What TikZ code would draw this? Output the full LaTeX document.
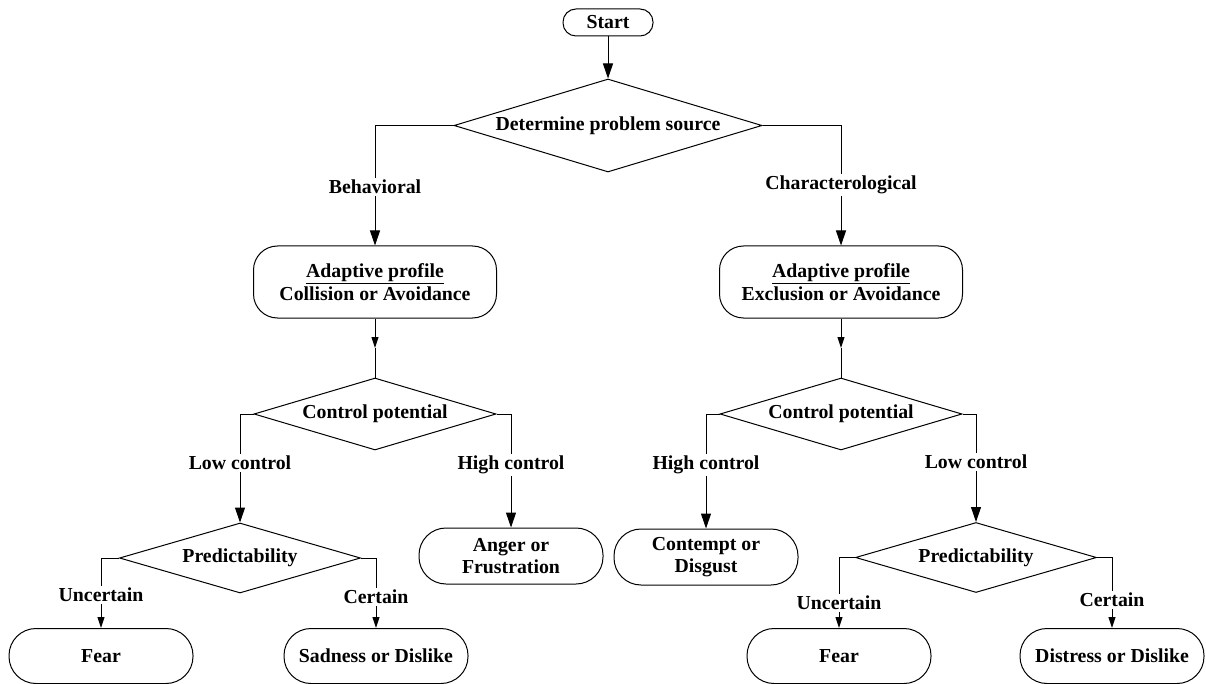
\documentclass[tikz,border=0pt]{standalone}
\usepackage{fontspec}
\setmainfont{Liberation Serif}
\usetikzlibrary{arrows.meta,shapes.geometric}
\begin{document}
\begin{tikzpicture}[x=1pt,y=-1pt,
  every node/.style={font=\fontsize{19.8}{22.5}\selectfont\bfseries},
  line/.style={line width=1pt},
  arr/.style={line width=1pt,-{Triangle[width=10pt,length=15pt]}},
  sarr/.style={line width=1pt,-{Triangle[width=7pt,length=11pt]}},
  term/.style={draw,line width=1pt,rounded corners=27pt,minimum width=184pt,
    minimum height=55pt,inner sep=0pt,align=center},
  profile/.style={draw,line width=1pt,rounded corners=24pt,minimum width=243pt,
    minimum height=72pt,inner sep=0pt,align=center},
  decision/.style={draw,line width=1pt,shape=diamond,inner sep=0pt},
  branch/.style={fill=white,inner sep=2pt}
]
\fill[white] (0,0) rectangle (1206,684);
\useasboundingbox (0,0) rectangle (1206,684);

% start and first decision
\node[draw,line width=1pt,rounded corners=13pt,minimum width=90pt,minimum height=27pt,inner sep=0pt]
  (start) at (608,22.5) {Start};
\node[decision,minimum width=308pt,minimum height=93pt] (d1) at (608,125.5)
  {\makebox[0pt]{Determine problem source}};

% branch labels under the first decision
\node[branch] (beh) at (375,187) {Behavioral};
\node[branch] (chr) at (841,185) {Characterological};

% adaptive profiles
\node[profile] (a1) at (375,282) {\underline{Adaptive profile}\\Collision or Avoidance};
\node[profile] (a2) at (841,282) {\underline{Adaptive profile}\\Exclusion or Avoidance};
\coordinate (m1) at (375,348);
\coordinate (m2) at (841,348);

% control potential decisions
\node[decision,minimum width=242pt,minimum height=72pt] (c1) at (375,414)
  {\makebox[0pt]{Control potential}};
\node[decision,minimum width=242pt,minimum height=72pt] (c2) at (841,414)
  {\makebox[0pt]{Control potential}};

\node[branch] (lowL) at (240,463) {Low control};
\node[branch] (highL) at (511,465) {High control};
\node[branch] (highR) at (706,465) {High control};
\node[branch] (lowR) at (976,462) {Low control};

% predictability decisions
\node[decision,minimum width=241pt,minimum height=70pt] (p1) at (240,558)
  {\makebox[0pt]{Predictability}};
\node[decision,minimum width=241pt,minimum height=70pt] (p2) at (976,557.5)
  {\makebox[0pt]{Predictability}};

\node[branch] (uncL) at (101,595) {Uncertain};
\node[branch] (cerL) at (376,597) {Certain};
\node[branch] (uncR) at (839,603) {Uncertain};
\node[branch] (cerR) at (1112,600) {Certain};

% outcomes
\node[term,minimum height=56pt] (anger) at (511,556) {Anger or\\Frustration};
\node[term,minimum height=56pt] (cont) at (706,557) {Contempt or\\Disgust};
\node[term] (fear1) at (101,656) {Fear};
\node[term] (sad) at (376,656) {Sadness or Dislike};
\node[term] (fear2) at (839,656) {Fear};
\node[term] (dist) at (1112,656) {Distress or Dislike};

% connectors
\draw[arr] (start.south) -- (d1.north);
\draw[line] (d1.west) -| (beh.north);
\draw[arr] (beh.south) -- (a1.north);
\draw[line] (d1.east) -| (chr.north);
\draw[arr] (chr.south) -- (a2.north);

\draw[sarr] (a1.south) -- (m1);
\draw[line] (m1) -- (c1.north);
\draw[sarr] (a2.south) -- (m2);
\draw[line] (m2) -- (c2.north);

\draw[line] (c1.west) -| (lowL.north);
\draw[arr] (lowL.south) -- (p1.north);
\draw[line] (c1.east) -| (highL.north);
\draw[arr] (highL.south) -- (anger.north);
\draw[line] (c2.west) -| (highR.north);
\draw[arr] (highR.south) -- (cont.north);
\draw[line] (c2.east) -| (lowR.north);
\draw[arr] (lowR.south) -- (p2.north);

\draw[line] (p1.west) -| (uncL.north);
\draw[sarr] (uncL.south) -- (fear1.north);
\draw[line] (p1.east) -| (cerL.north);
\draw[sarr] (cerL.south) -- (sad.north);
\draw[line] (p2.west) -| (uncR.north);
\draw[sarr] (uncR.south) -- (fear2.north);
\draw[line] (p2.east) -| (cerR.north);
\draw[sarr] (cerR.south) -- (dist.north);
\end{tikzpicture}
\end{document}
